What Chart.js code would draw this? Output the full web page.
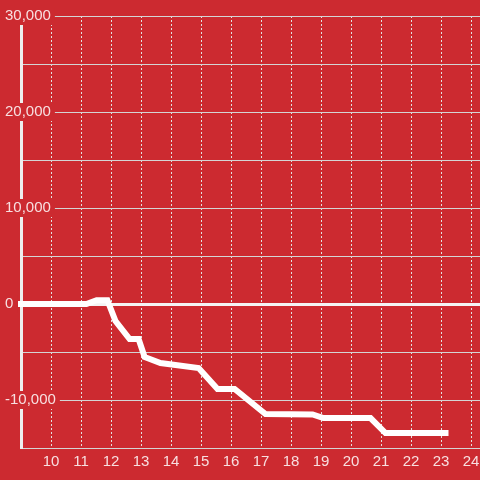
<!DOCTYPE html>
<html>
<head>
<meta charset="utf-8">
<script src="https://cdn.jsdelivr.net/npm/chart.js@4/dist/chart.umd.min.js"></script>
<style>
  html, body { margin: 0; padding: 0; background: #cc2a30; }
  #wrap { width: 480px; height: 480px; position: relative; }
</style>
</head>
<body>
<div id="wrap"><canvas id="chart"></canvas></div>
<script>
// values
var hours = [9, 11.18, 11.52, 11.88, 12.15, 12.62, 12.92, 13.12, 13.65, 14.92, 15.55, 16.12, 17.15, 18.72, 19.08, 20.65, 21.15, 23.15];
var balance = [0, 0, 400, 400, -1770, -3650, -3650, -5520, -6150, -6670, -8850, -8850, -11460, -11500, -11880, -11880, -13440, -13440];
var xTicks = [10, 11, 12, 13, 14, 15, 16, 17, 18, 19, 20, 21, 22, 23, 24];
var yLabelled = [-10000, 0, 10000, 20000, 30000];

var points = hours.map(function(h, i) { return {x: h, y: balance[i]}; });
var labelColor = 'rgba(255, 255, 255, 0.85)';

Chart.defaults.font.family = '"Liberation Sans", Arial, sans-serif';
Chart.defaults.font.size = 15;

new Chart('chart', {
  type: 'line',
  data: {
    datasets: [{
      data: points,
      borderColor: '#ffffff',
      borderWidth: 6,
      borderCapStyle: 'square',
      pointRadius: 0,
      tension: 0,
      fill: false,
      clip: false
    }]
  },
  options: {
    responsive: true,
    maintainAspectRatio: false,
    animation: false,
    layout: { padding: { left: 21, top: 16, right: 0, bottom: 0 } },
    plugins: { legend: { display: false }, tooltip: { enabled: false } },
    scales: {
      x: {
        type: 'linear',
        min: 9,
        max: 24.3,
        afterFit: function(scale) {
          scale.height = 32;
          scale.paddingLeft = 0;
          scale.paddingRight = 0;
        },
        ticks: {
          stepSize: 1,
          includeBounds: false,
          autoSkip: false,
          maxRotation: 0,
          padding: 5,
          color: labelColor,
          callback: function(v) { return xTicks.indexOf(v) >= 0 ? String(v) : ''; }
        },
        grid: {
          drawTicks: false,
          color: function(ctx) {
            return xTicks.indexOf(ctx.tick && ctx.tick.value) >= 0 ? '#e2e2e2' : 'rgba(0,0,0,0)';
          },
          lineWidth: 1
        },
        border: { display: true, color: '#d4d4d4', width: 1, dash: [2, 2] }
      },
      y: {
        min: -15000,
        max: 30000,
        afterFit: function(scale) {
          scale.width = 0;
          scale.paddingTop = 0;
          scale.paddingBottom = 0;
        },
        ticks: {
          stepSize: 5000,
          mirror: true,
          padding: -16,
          color: labelColor,
          showLabelBackdrop: function(ctx) { return yLabelled.indexOf(ctx.tick.value) >= 0; },
          backdropColor: '#cc2a30',
          backdropPadding: { x: 4, y: 0 },
          callback: function(v) { return yLabelled.indexOf(v) >= 0 ? v.toLocaleString('en-US') : ''; }
        },
        grid: {
          drawTicks: false,
          color: function(ctx) { return ctx.tick && ctx.tick.value === 0 ? '#f4f4f4' : '#d4d4d4'; },
          lineWidth: function(ctx) { return ctx.tick && ctx.tick.value === 0 ? 3 : 1; }
        },
        border: { display: true, color: '#eeeeee', width: 3 }
      }
    }
  }
});
</script>
</body>
</html>
